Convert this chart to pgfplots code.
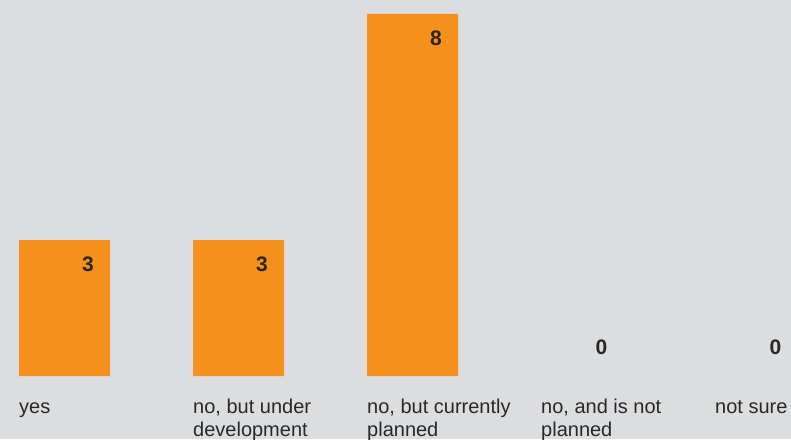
\documentclass[border=0pt]{standalone}
\usepackage{pgfplots}
\pgfplotsset{compat=1.18}
\usepackage{fontspec}
\setmainfont{Liberation Sans}
\definecolor{bg}{RGB}{220,221,223}
\definecolor{bar}{RGB}{247,145,30}
\definecolor{txt}{RGB}{40,40,40}
\begin{document}
\begin{tikzpicture}
\path[use as bounding box, fill=bg] (0pt,-63pt) rectangle (791pt,376pt);
\begin{axis}[
  at={(0pt,0pt)}, anchor=south west,
  scale only axis, width=791pt, height=376pt,
  xmin=-0.3707, xmax=4.1753, ymin=0, ymax=8.309,
  axis line style={draw=none},
  tick style={draw=none},
  ytick=\empty,
  xtick={0,1,2,3,4},
  xticklabels={{\strut yes},{\strut no, but under\\development},{\strut no, but currently\\planned},{\strut no, and is not\\planned},{\strut not sure}},
  xticklabel style={anchor=north west, xshift=-45.5pt, yshift=-21.6pt, align=left, inner sep=0pt,
    font=\fontsize{20}{23}\selectfont, text=txt},
  major tick length=0pt,
  clip=false,
  ybar, bar width=91pt,
  /pgf/number format/assume math mode=true,
]
\addplot[fill=bar, draw=none, bar shift=0pt,
  nodes near coords,
  nodes near coords style={anchor=center, xshift=23.5pt, yshift=-24pt,
    font=\fontsize{21}{24}\selectfont\bfseries, text=txt}]
  coordinates {(0,3) (1,3) (2,8)};
\addplot[sharp plot, draw=none, mark=none,
  nodes near coords,
  nodes near coords style={anchor=center, xshift=15pt, yshift=29pt,
    font=\fontsize{21}{24}\selectfont\bfseries, text=txt}]
  coordinates {(3,0) (4,0)};
\end{axis}
\end{tikzpicture}
\end{document}
